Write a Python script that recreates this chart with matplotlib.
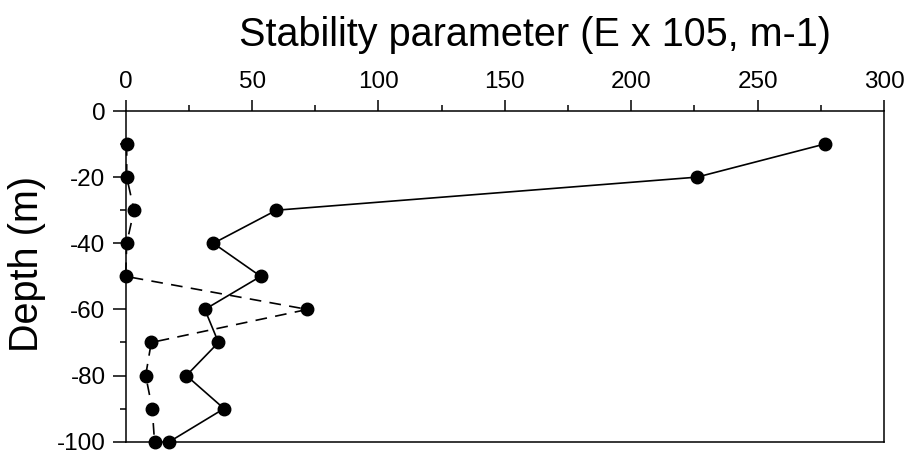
import numpy as np
import matplotlib.pyplot as plt
from matplotlib.ticker import MultipleLocator

plt.rcParams['font.family'] = ['Liberation Sans', 'DejaVu Sans']
plt.rcParams['axes.unicode_minus'] = False

depth = [-10, -20, -30, -40, -50, -60, -70, -80, -90, -100]
# solid line series
stab_solid = [276.5, 226, 59.6, 34.7, 53.4, 31.3, 36.7, 24, 38.9, 17.3]
# dashed line series
stab_dashed = [0.4, 0.4, 3.3, 0.4, 0, 71.9, 10.1, 7.9, 10.5, 11.4]

W, H = 908, 451
fig = plt.figure(figsize=(W / 100, H / 100), dpi=100)
ax = fig.add_axes([125.7 / W, 1 - 441.7 / H, (884 - 125.7) / W, (441.7 - 111) / H])

ax.plot(stab_solid, depth, color='black', lw=1.2, marker='o', ms=9, clip_on=False)
ax.plot(stab_dashed, depth, color='black', lw=1.2, ls=(0, (7, 5)), marker='o', ms=9, clip_on=False)

ax.set_xlim(0, 300)
ax.set_ylim(-100, 0)
ax.xaxis.tick_top()
ax.xaxis.set_major_locator(MultipleLocator(50))
ax.xaxis.set_minor_locator(MultipleLocator(25))
ax.yaxis.set_major_locator(MultipleLocator(20))
ax.yaxis.set_minor_locator(MultipleLocator(10))
ax.tick_params(which='major', direction='out', width=1.1, labelsize=17.5, pad=5)
ax.tick_params(axis='x', which='major', length=8)
ax.tick_params(axis='y', which='major', length=9.5)
ax.tick_params(which='minor', direction='out', length=4.5, width=1.1)
for s in ax.spines.values():
    s.set_linewidth(1.1)

ax.set_ylabel('Depth (m)', fontsize=28.5)
ax.yaxis.set_label_coords((46 - 125.7) / (884 - 125.7), (441.7 - 264) / (441.7 - 111))
fig.text(535 / W, 1 - 35 / H, 'Stability parameter (E x 105, m-1)', fontsize=28.5,
         ha='center', va='center')

fig.savefig('out.png', dpi=100)
